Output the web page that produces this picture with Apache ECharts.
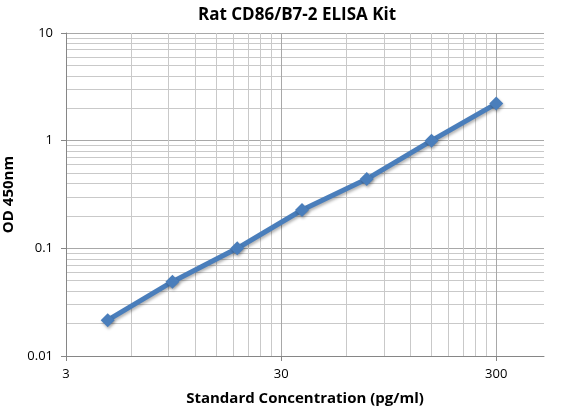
<!DOCTYPE html>
<html>
    <head>
        <meta charset="utf-8">
        <title>Rat CD86/B7-2 ELISA Kit</title>
        <script src="https://cdn.jsdelivr.net/npm/echarts@6/dist/echarts.min.js"></script>
    </head>
    <body style="margin:0">
        <div id="main" style="width: 564px;height:410px;"></div>
        <script type="text/javascript">
            // standard curve data
            var concentrations = [4.6875, 9.375, 18.75, 37.5, 75, 150, 300];
            var odValues = [0.0215, 0.049, 0.1, 0.227, 0.44, 1.0, 2.21];

            // tick / gridline values
            var xMajorTicks = [3, 30, 300];
            var xMinorTicks = [6, 9, 12, 15, 18, 21, 24, 27, 60, 90, 120, 150, 180, 210, 240, 270];
            var yMajorTicks = [0.01, 0.1, 1, 10];
            var yMinorTicks = [0.02, 0.03, 0.04, 0.05, 0.06, 0.07, 0.08, 0.09,
                               0.2, 0.3, 0.4, 0.5, 0.6, 0.7, 0.8, 0.9,
                               2, 3, 4, 5, 6, 7, 8, 9];

            var seriesData = [];
            for (var i = 0; i < concentrations.length; i++) {
                seriesData.push([concentrations[i], odValues[i]]);
            }

            var font = '"Open Sans", "Noto Sans", sans-serif';
            var axisGrey = '#868686';

            var myChart = echarts.init(document.getElementById('main'));

            var option = {
                backgroundColor: '#ffffff',
                animation: false,
                title: {
                    text: 'Rat CD86/B7-2 ELISA Kit',
                    left: 292,
                    textAlign: 'center',
                    top: 2,
                    textStyle: { fontFamily: font, fontSize: 17, fontWeight: 'bold', color: '#000' }
                },
                grid: { left: 66, right: 20, top: 33, bottom: 54, containLabel: false, outerBoundsMode: 'none' },
                xAxis: [{
                    type: 'log', logBase: 10, min: 3, max: 500,
                    name: 'Standard Concentration (pg/ml)',
                    nameLocation: 'middle', nameGap: 35,
                    nameTextStyle: { fontFamily: font, fontSize: 15, fontWeight: 'bold', color: '#000' },
                    axisLine: { show: true, lineStyle: { color: axisGrey, width: 1 } },
                    axisTick: { show: true, length: 5, lineStyle: { color: axisGrey }, customValues: xMajorTicks },
                    axisLabel: { customValues: xMajorTicks, margin: 12, fontFamily: font, fontSize: 13, color: '#000' },
                    splitLine: { show: true, lineStyle: { color: '#a8a8a8', width: 1 } }
                }, {
                    type: 'log', logBase: 10, min: 3, max: 500, position: 'bottom',
                    axisLine: { show: false },
                    axisTick: { show: false, customValues: xMinorTicks },
                    axisLabel: { show: false },
                    splitLine: { show: true, lineStyle: { color: '#c9c9c9', width: 1 } }
                }],
                yAxis: [{
                    type: 'log', logBase: 10, min: 0.01, max: 10,
                    name: 'OD 450nm',
                    nameLocation: 'middle', nameGap: 46,
                    nameTextStyle: { fontFamily: font, fontSize: 15, fontWeight: 'bold', color: '#000' },
                    axisLine: { show: true, lineStyle: { color: axisGrey, width: 1 } },
                    axisTick: { show: true, length: 5, lineStyle: { color: axisGrey }, customValues: yMajorTicks },
                    axisLabel: { customValues: yMajorTicks, margin: 13, fontFamily: font, fontSize: 13, color: '#000' },
                    splitLine: { show: true, lineStyle: { color: '#a8a8a8', width: 1 } }
                }, {
                    type: 'log', logBase: 10, min: 0.01, max: 10, position: 'left',
                    axisLine: { show: false },
                    axisTick: { show: false, customValues: yMinorTicks },
                    axisLabel: { show: false },
                    splitLine: { show: true, lineStyle: { color: '#c9c9c9', width: 1 } }
                }],
                series: [{
                    type: 'line',
                    data: seriesData,
                    xAxisIndex: 0,
                    yAxisIndex: 0,
                    symbol: 'diamond',
                    symbolSize: 14,
                    z: 5,
                    lineStyle: {
                        color: '#4a7ebb', width: 5,
                        shadowColor: 'rgba(0,0,0,0.3)', shadowBlur: 3, shadowOffsetX: 1, shadowOffsetY: 2
                    },
                    itemStyle: {
                        color: '#4a7ebb',
                        shadowColor: 'rgba(0,0,0,0.3)', shadowBlur: 3, shadowOffsetX: 1, shadowOffsetY: 2
                    }
                }]
            };

            myChart.setOption(option);
        </script>
    </body>
</html>
